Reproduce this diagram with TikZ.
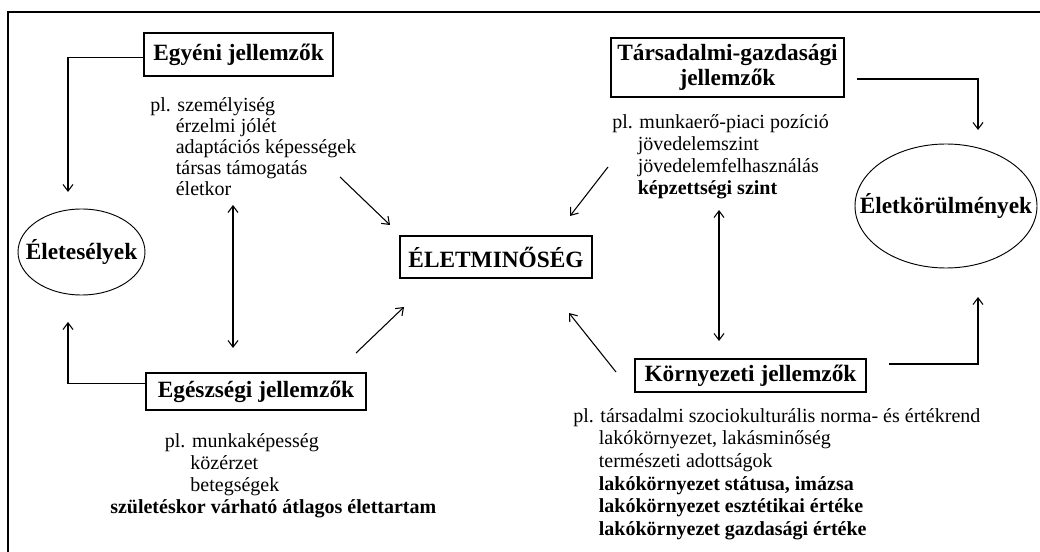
\documentclass[tikz,border=0pt]{standalone}
\usepackage{fontspec}
\setmainfont{Liberation Serif}
\usetikzlibrary{arrows.meta,shapes.geometric}
\newcommand{\plind}{\hphantom{pl.\ }}

\begin{document}
\begin{tikzpicture}[
  x=0.75pt,y=-0.75pt,
  every node/.style={inner sep=0pt},
  box/.style={draw,line width=0.9pt,align=center,font=\fontsize{17.5}{18.5}\selectfont\bfseries},
  oval/.style={draw,ellipse,line width=0.7pt,font=\fontsize{17.5}{18.5}\selectfont\bfseries},
  list/.style={anchor=north west,align=left,font=\fontsize{15}{16.5}\selectfont},
  arr/.style={-{Straight Barb[length=5pt,width=7.5pt]},line width=0.8pt},
  dblarr/.style={{Straight Barb[length=5pt,width=7.5pt]}-{Straight Barb[length=5pt,width=7.5pt]},line width=0.8pt}
]
\useasboundingbox (0,0) rectangle (1040,552);
\draw[line width=1.6pt] (8,552) -- (8,12) -- (1040,12);

\node[box,minimum width=141.75pt,minimum height=32.25pt] (egyeni) at (238.5,54.5) {Egyéni jellemzők};
\node[list,font=\fontsize{15}{15.8}\selectfont] (egyenilist) at (150,97)
  {pl. személyiség\\ \plind érzelmi jólét\\ \plind adaptációs képességek\\ \plind társas támogatás\\ \plind életkor};
\node[oval,minimum width=95.25pt,minimum height=64.5pt] (eselyek) at (81.5,252) {\makebox[0pt]{Életesélyek}};
\node[box,minimum width=165pt,minimum height=27.75pt] (egesz) at (256,391.5) {Egészségi jellemzők};
\node[list] (egeszlist) at (110,433)
  {\hspace*{41pt}pl. munkaképesség\\ \hspace*{41pt}\plind közérzet\\ \hspace*{41pt}\plind betegségek\\
   \textbf{születéskor várható átlagos élettartam}};
\node[box,minimum width=144pt,minimum height=31.5pt] (elet) at (496,257) {ÉLETMINŐSÉG};
\node[box,minimum width=174.75pt,minimum height=44.25pt] (tars) at (727.5,67.5) {Társadalmi-gazdasági\\jellemzők};
\node[list] (tarslist) at (612,114)
  {pl. munkaerő-piaci pozíció\\ \plind jövedelemszint\\ \plind jövedelemfelhasználás\\ \plind\textbf{képzettségi szint}};
\node[oval,minimum width=136.5pt,minimum height=93pt] (korulm) at (946,206) {\makebox[0pt]{Életkörülmények}};
\node[box,minimum width=173.25pt,minimum height=24.75pt] (korny) at (750.5,375.5) {Környezeti jellemzők};
\node[list,font=\fontsize{15}{17}\selectfont] (kornylist) at (573,408)
  {pl. társadalmi szociokulturális norma- és értékrend\\ \plind lakókörnyezet, lakásminőség\\
   \plind természeti adottságok\\ \plind\textbf{lakókörnyezet státusa, imázsa}\\
   \plind\textbf{lakókörnyezet esztétikai értéke}\\ \plind\textbf{lakókörnyezet gazdasági értéke}};

\coordinate (eselyek top) at (68,192);
\coordinate (eselyek bot) at (68,322);
\coordinate (gy1) at (233,205);
\coordinate (gy2) at (233,348);
\coordinate (e1) at (340,177);
\coordinate (e2) at (390,225);
\coordinate (h1) at (356,353);
\coordinate (h2) at (404,307);
\coordinate (t1) at (608,167);
\coordinate (t2) at (570,216);
\coordinate (k1) at (616,372);
\coordinate (k2) at (569,313);
\coordinate (tk1) at (719,210);
\coordinate (tk2) at (719,341);
\coordinate (korulm top) at (978,130);
\coordinate (korulm bot) at (978,297);

\draw[arr] (egyeni.west) ++(0,3) -| (eselyek top);
\draw[arr] (egesz.west) ++(0,-8) -| (eselyek bot);
\draw[dblarr] (gy1) -- (gy2);
\draw[arr] (e1) -- (e2);
\draw[arr] (h1) -- (h2);
\draw[arr] (t1) -- (t2);
\draw[arr] (k1) -- (k2);
\draw[dblarr] (tk1) -- (tk2);
\draw[arr] (tars.east) ++(12,11.5) -| (korulm top);
\draw[arr] (korny.east) ++(22,-11.5) -| (korulm bot);
\end{tikzpicture}
\end{document}
